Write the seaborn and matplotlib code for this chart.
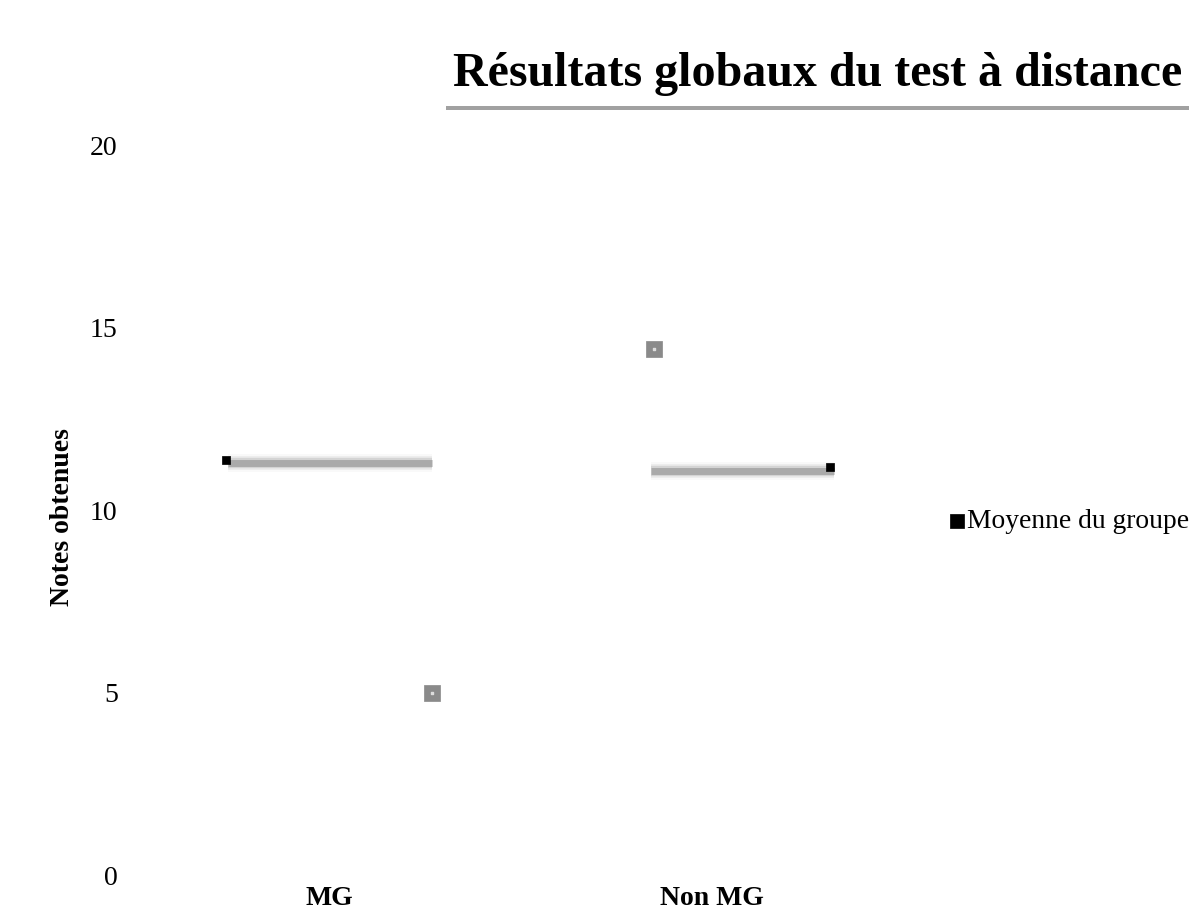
import matplotlib
matplotlib.use("Agg")
import matplotlib.pyplot as plt
import matplotlib.patheffects as pe
import seaborn as sns
import pandas as pd

# Data
groups = ["MG", "Non MG"]
line_means = [11.28, 11.07]      # grey mean bars
marker_means = [11.37, 11.18]    # black "Moyenne du groupe" squares
point_scores = [5.0, 14.4]       # single grey points
y_ticks = [0, 5, 10, 15, 20]

title = "Résultats globaux du test à distance"
ylabel = "Notes obtenues"
legend_label = "Moyenne du groupe"

# Theme
sns.set_theme(style="white")
plt.rcParams["font.family"] = ["Liberation Serif", "DejaVu Serif"]
plt.rcParams["text.color"] = "black"
plt.rcParams["axes.labelcolor"] = "black"
plt.rcParams["xtick.color"] = "black"
plt.rcParams["ytick.color"] = "black"

fig = plt.figure(figsize=(11.89, 9.18), dpi=100)
ax = fig.add_axes([0.1177, 0.0468, 0.656, 0.7952])

# layout of marks relative to each category slot
line_span = [(-0.267, 0.267), (-0.16, 0.32)]
marker_off = [-0.272, 0.31]
point_off = [0.267, -0.15]

# mean bars with a soft shadow
for i, (m, (a, b)) in enumerate(zip(line_means, line_span)):
    for lw, alpha in [(13, 0.06), (10, 0.14), (7.5, 0.35), (5, 0.9)]:
        ax.hlines(m, i + a, i + b, color="#a6a6a6", lw=lw, alpha=alpha,
                  capstyle="butt", zorder=2)

# individual points
pts = pd.DataFrame({"x": [i + o for i, o in enumerate(point_off)],
                    "score": point_scores})
sns.scatterplot(data=pts, x="x", y="score", marker="s", s=120,
                color="#8a8a8a", edgecolor="#8a8a8a", linewidth=0.5, ax=ax,
                zorder=3)
ax.scatter(pts["x"], pts["score"], marker="s", s=4, color="#dcdcdc", zorder=4)

# group mean markers
mk = pd.DataFrame({"x": [i + o for i, o in enumerate(marker_off)],
                   "score": marker_means})
sns.scatterplot(data=mk, x="x", y="score", marker="s", s=40, color="black",
                edgecolor="black", ax=ax, zorder=5, label=legend_label)

ax.set_xlim(-0.497, 1.545)
ax.set_ylim(0, 20)
ax.set_xticks(range(len(groups)))
ax.set_xticklabels(groups, fontsize=20, fontweight="bold")
ax.set_yticks(y_ticks)
ax.set_yticklabels([str(t) for t in y_ticks], fontsize=20)
ax.tick_params(axis="y", length=0, pad=16)
ax.tick_params(axis="x", length=0, pad=8)
ax.set_xlabel("")
ax.set_ylabel(ylabel, fontsize=20, fontweight="bold")
ax.yaxis.set_label_coords(-0.083, 0.49)
for s in ax.spines.values():
    s.set_visible(False)
ax.set_facecolor("white")

# legend to the right
ax.legend(loc="center left", bbox_to_anchor=(0.799, 0.432),
          bbox_transform=fig.transFigure, frameon=False, fontsize=19.8,
          handlelength=0.5, handletextpad=0.12, markerscale=1.6,
          borderpad=0, borderaxespad=0)

# title in a white box with a drop shadow
t = fig.text(0.9945, 0.919, title, ha="right", va="center", fontsize=34.6,
             fontweight="bold",
             bbox=dict(boxstyle="square,pad=0.2", facecolor="white",
                       edgecolor="none"))
t.get_bbox_patch().set_path_effects([
    pe.withSimplePatchShadow(offset=(2, -3), shadow_rgbFace="#7a7a7a", alpha=0.7),
    pe.Normal()])

fig.savefig("out.png", dpi=100, facecolor="white")
